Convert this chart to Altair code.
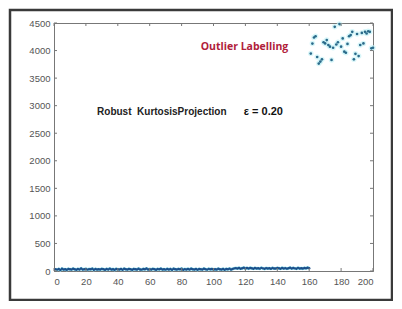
import altair as alt
import pandas as pd

# ---- data ----
base_values = [
    30, 25, 35, 20, 40, 28, 33, 22, 38, 30, 26, 42, 31, 24, 36, 29, 45, 27, 33, 38,
    25, 34, 30, 41, 22, 36, 28, 32, 26, 39, 31, 24, 35, 29, 43, 27, 33, 21, 37, 30,
    28, 35, 24, 40, 31, 26, 38, 30, 22, 36, 33, 27, 41, 29, 25, 37, 32, 44, 28, 34,
    26, 39, 31, 23, 36, 30, 42, 27, 33, 25, 38, 29, 35, 22, 40, 31, 27, 36, 30, 43,
    24, 34, 29, 38, 26, 41, 32, 28, 35, 23, 37, 30, 27, 42, 33, 25, 39, 31, 36, 28,
    30, 26, 40, 33, 28, 37, 24, 35, 31, 43, 29, 38, 48, 52, 45, 55, 42, 50, 58, 47,
    53, 44, 56, 49, 41, 54, 46, 51, 43, 57, 48, 40, 52, 45, 50, 42, 55, 47, 44, 53,
    49, 41, 56, 46, 52, 43, 50, 58, 45, 54, 48, 42, 57, 47, 51, 44, 55, 49, 60, 52,
]
outlier_values = [
    3945, 4127, 4236, 4260, 3884, 3764, 3800, 3840, 4150, 4130,
    4190, 4100, 4070, 3830, 4050, 4430, 4110, 4150, 4480, 4070,
    4220, 3980, 3960, 4120, 4260, 4280, 4340, 3840, 3940, 4300,
    3900, 4100, 4320, 4130, 4340, 4310, 4350, 4340, 4040, 4050,
]
x_ticks = list(range(0, 201, 20))
y_ticks = list(range(0, 4501, 500))
labels = ["Outlier Labelling", "Robust\u00a0\u00a0KurtosisProjection", "\u03b5 = 0.20"]
label_x = [92, 27, 119]
label_y = [4060, 2880, 2880]

base_df = pd.DataFrame({"i": list(range(1, len(base_values) + 1)), "v": base_values})
out_df = pd.DataFrame({"i": list(range(161, 161 + len(outlier_values))), "v": outlier_values})
xt_df = pd.DataFrame({"t": x_ticks})
yt_df = pd.DataFrame({"t": y_ticks})
lab_df = pd.DataFrame({"label": labels, "x": label_x, "y": label_y})

xs = alt.Scale(domain=[0, 200], nice=False)
ys = alt.Scale(domain=[0, 4500], nice=False)

xaxis = alt.Axis(values=x_ticks, title=None, grid=False, tickSize=0, labelPadding=5,
                 labelFontSize=9.5, labelColor="#555", domainColor="#777",
                 labelFont="Liberation Sans", labelOverlap=False, format="d")
yaxis = alt.Axis(values=y_ticks, title=None, grid=False, tickSize=0, labelPadding=4,
                 labelFontSize=9.5, labelColor="#555", domainColor="#777",
                 labelFont="Liberation Sans", labelOverlap=False, format="d")


def X(f):
    return alt.X(f, scale=xs, axis=xaxis)


def Y(f):
    return alt.Y(f, scale=ys, axis=yaxis)


frame = alt.Chart(pd.DataFrame({"a": [0]})).mark_rect(
    fillOpacity=0, stroke="#3a3a3a", strokeWidth=2.5
).encode(x=alt.value(-44), x2=alt.value(338), y=alt.value(-13), y2=alt.value(277))

base_line = alt.Chart(base_df).mark_line(color="#8fe0ee", strokeWidth=3).encode(
    x=X("i:Q"), y=Y("v:Q")
)
base_pts = alt.Chart(base_df).mark_circle(size=6, color="#1c4f8a", opacity=1).encode(
    x=X("i:Q"), y=Y("v:Q")
)
out_halo = alt.Chart(out_df).mark_circle(size=30, color="#c8f2f6", opacity=0.7).encode(
    x=X("i:Q"), y=Y("v:Q")
)
out_pts = alt.Chart(out_df).mark_circle(size=7, color="#2a6a8a", opacity=1).encode(
    x=X("i:Q"), y=Y("v:Q")
)

tick_style = dict(color="#777", strokeWidth=1)
yl = alt.Chart(yt_df).mark_rule(**tick_style).encode(
    y=Y("t:Q"), x=alt.value(0), x2=alt.value(3))
yr = alt.Chart(yt_df).mark_rule(**tick_style).encode(
    y=Y("t:Q"), x=alt.value(316), x2=alt.value(319))
xb = alt.Chart(xt_df).mark_rule(**tick_style).encode(
    x=X("t:Q"), y=alt.value(248), y2=alt.value(245))
xtp = alt.Chart(xt_df).mark_rule(**tick_style).encode(
    x=X("t:Q"), y=alt.value(0), y2=alt.value(3))

t1 = alt.Chart(lab_df.iloc[[0]]).mark_text(
    align="left", baseline="middle", fontSize=10.5, fontWeight="bold",
    color="#b0203a", font="Open Sans"
).encode(x=X("x:Q"), y=Y("y:Q"), text="label:N")
t2 = alt.Chart(lab_df.iloc[[1]]).mark_text(
    align="left", baseline="middle", fontSize=10, fontWeight="bold",
    color="#222", font="Liberation Sans"
).encode(x=X("x:Q"), y=Y("y:Q"), text="label:N")
t3 = alt.Chart(lab_df.iloc[[2]]).mark_text(
    align="left", baseline="middle", fontSize=11, fontWeight="bold",
    color="#111", font="Liberation Sans"
).encode(x=X("x:Q"), y=Y("y:Q"), text="label:N")

chart = alt.layer(
    frame, base_line, base_pts, out_halo, out_pts, yl, yr, xb, xtp, t1, t2, t3
).properties(
    width=319, height=248,
    autosize=alt.AutoSizeParams(type="none"),
    padding={"left": 46, "top": 15, "right": 20, "bottom": 30},
    background="white",
).configure_view(stroke="#777", strokeWidth=1).configure_axis(labelOverlap=False)

chart.save("out.html", embed_options={"renderer": "svg", "actions": False})
